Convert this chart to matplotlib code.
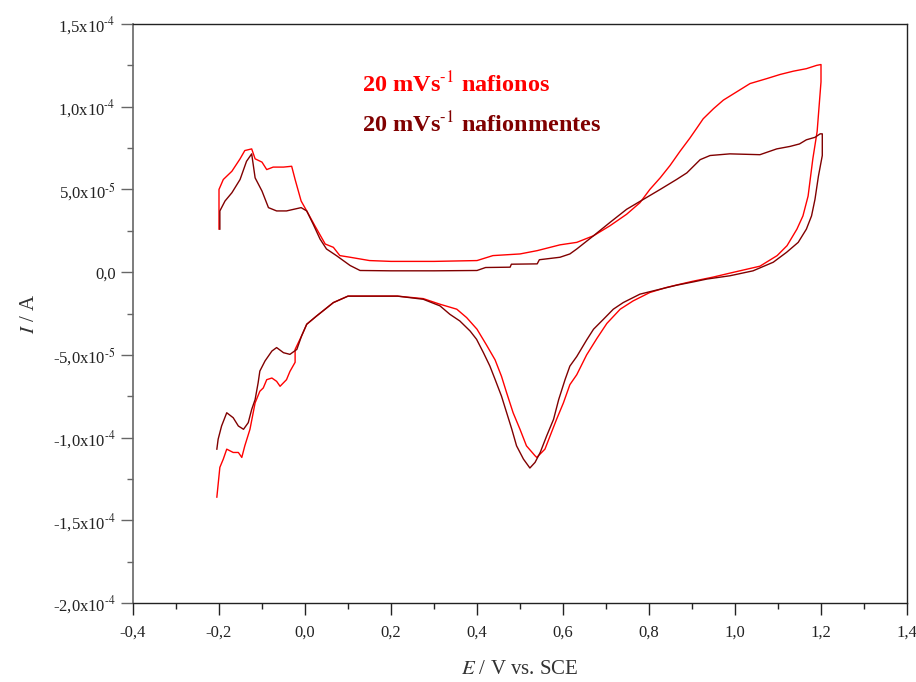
import matplotlib
matplotlib.use("Agg")
import matplotlib.pyplot as plt
from matplotlib.ticker import FixedLocator, MultipleLocator

plt.rcParams['font.family'] = ['Liberation Serif', 'DejaVu Serif']
plt.rcParams['mathtext.fontset'] = 'stix'

# ---- data (E in V vs SCE, I in units of 1e-5 A) ----
nafionos_E = [-0.2, -0.2, -0.19, -0.17, -0.151, -0.14, -0.124, -0.116, -0.1, -0.089, -0.074, -0.05,
              -0.031, -0.023, -0.009, 0.004, 0.023, 0.047, 0.066, 0.081, 0.105, 0.15, 0.2, 0.3, 0.4,
              0.437, 0.5, 0.54, 0.593, 0.632, 0.671, 0.709, 0.748, 0.779, 0.802, 0.826, 0.849, 0.872,
              0.895, 0.911, 0.926, 0.95, 0.973, 1.004, 1.035, 1.074, 1.105, 1.136, 1.166, 1.19, 1.2,
              1.2, 1.191, 1.181, 1.17, 1.158, 1.144, 1.121, 1.098, 1.058, 1.028, 0.988, 0.949, 0.902,
              0.872, 0.84, 0.802, 0.763, 0.733, 0.702, 0.679, 0.655, 0.632, 0.616, 0.601, 0.585, 0.57,
              0.558, 0.539, 0.535, 0.515, 0.5, 0.484, 0.469, 0.457, 0.442, 0.422, 0.4, 0.376, 0.353,
              0.314, 0.275, 0.215, 0.1, 0.066, 0.027, 0.004, -0.008, -0.023, -0.023, -0.035, -0.043,
              -0.058, -0.066, -0.077, -0.089, -0.097, -0.105, -0.116, -0.128, -0.14, -0.147, -0.155,
              -0.167, -0.182, -0.19, -0.198, -0.205]
nafionos_I = [2.6, 5.0, 5.6, 6.1, 6.85, 7.35, 7.45, 6.85, 6.65, 6.2, 6.35, 6.35,
              6.4, 5.6, 4.3, 3.7, 2.8, 1.7, 1.5, 1.0, 0.9, 0.7, 0.65, 0.65, 0.7,
              1.0, 1.1, 1.3, 1.65, 1.8, 2.2, 2.8, 3.5, 4.2, 5.0, 5.7, 6.45, 7.3,
              8.1, 8.7, 9.27, 9.88, 10.4, 10.9, 11.4, 11.7, 11.95, 12.15, 12.3, 12.5, 12.55,
              11.5, 8.5, 6.85, 4.6, 3.4, 2.6, 1.6, 1.0, 0.36, 0.18, -0.06, -0.3, -0.55,
              -0.73, -0.93, -1.23, -1.74, -2.24, -3.1, -4.0, -5.0, -6.2, -6.8, -7.9, -8.9, -9.9,
              -10.7, -11.2, -11.1, -10.5, -9.5, -8.5, -7.3, -6.3, -5.3, -4.4, -3.45, -2.75, -2.24,
              -1.94, -1.6, -1.45, -1.45, -1.84, -2.65, -3.15, -3.86, -4.67, -5.45, -6.0, -6.5,
              -6.9, -6.6, -6.4, -6.5, -7.0, -7.2, -7.9, -9.5, -10.5, -11.2, -10.9,
              -10.9, -10.7, -11.3, -11.8, -13.6]

nafionmentes_E = [-0.198, -0.198, -0.186, -0.17, -0.151, -0.136, -0.124, -0.116, -0.1, -0.085, -0.066,
                  -0.043, -0.009, 0.004, 0.019, 0.035, 0.05, 0.073, 0.105, 0.128, 0.2, 0.3, 0.4, 0.42,
                  0.477, 0.48, 0.54, 0.545, 0.593, 0.616, 0.632, 0.671, 0.709, 0.748, 0.787, 0.826,
                  0.864, 0.888, 0.919, 0.942, 0.988, 1.058, 1.097, 1.128, 1.15, 1.166, 1.186, 1.198,
                  1.203, 1.203, 1.194, 1.186, 1.178, 1.166, 1.147, 1.12, 1.089, 1.042, 0.988, 0.934,
                  0.903, 0.864, 0.826, 0.779, 0.74, 0.717, 0.694, 0.671, 0.655, 0.632, 0.616, 0.605,
                  0.59, 0.578, 0.562, 0.547, 0.535, 0.523, 0.508, 0.492, 0.481, 0.469, 0.457, 0.442,
                  0.43, 0.415, 0.399, 0.384, 0.36, 0.337, 0.314, 0.275, 0.215, 0.1, 0.066, 0.027,
                  0.004, -0.008, -0.019, -0.035, -0.05, -0.066, -0.077, -0.093, -0.105, -0.109,
                  -0.116, -0.124, -0.132, -0.143, -0.155, -0.167, -0.182, -0.194, -0.202, -0.205]
nafionmentes_I = [2.6, 3.7, 4.3, 4.8, 5.6, 6.7, 7.15, 5.7, 4.9, 3.9, 3.7,
                  3.7, 3.9, 3.7, 2.9, 2.0, 1.4, 1.0, 0.4, 0.1, 0.08, 0.08, 0.1, 0.28,
                  0.3, 0.48, 0.5, 0.75, 0.9, 1.1, 1.4, 2.2, 3.0, 3.8, 4.4, 5.0,
                  5.6, 6.0, 6.8, 7.05, 7.15, 7.1, 7.45, 7.6, 7.75, 8.0, 8.15, 8.36,
                  8.36, 7.05, 5.8, 4.4, 3.4, 2.6, 1.8, 1.2, 0.6, 0.08, -0.22, -0.42,
                  -0.59, -0.79, -1.03, -1.33, -1.84, -2.24, -2.85, -3.45, -4.1, -5.1, -5.68, -6.48,
                  -7.7, -8.9, -9.9, -10.9, -11.5, -11.84, -11.3, -10.5, -9.5, -8.5, -7.5, -6.48,
                  -5.68, -4.87, -4.06, -3.56, -2.95, -2.55, -2.04, -1.64, -1.45, -1.45, -1.84, -2.65,
                  -3.15, -3.86, -4.67, -4.97, -4.87, -4.56, -4.77, -5.37, -5.98, -6.69,
                  -7.7, -8.3, -9.1, -9.5, -9.3, -8.8, -8.5, -9.3, -10.1, -10.7]

x_ticks = [-0.4, -0.2, 0.0, 0.2, 0.4, 0.6, 0.8, 1.0, 1.2, 1.4]
x_tick_labels = ['-0,4', '-0,2', '0,0', '0,2', '0,4', '0,6', '0,8', '1,0', '1,2', '1,4']
y_ticks = [-2.0e-4, -1.5e-4, -1.0e-4, -5.0e-5, 0.0, 5.0e-5, 1.0e-4, 1.5e-4]
y_tick_labels = [r'-2,0x10$^{\text{-4}}$', r'-1,5x10$^{\text{-4}}$', r'-1,0x10$^{\text{-4}}$',
                 r'-5,0x10$^{\text{-5}}$', '0,0', r'5,0x10$^{\text{-5}}$', r'1,0x10$^{\text{-4}}$',
                 r'1,5x10$^{\text{-4}}$']

series_labels = [r'20 mVs$^{\text{-1}}$ nafionos', r'20 mVs$^{\text{-1}}$ nafionmentes']
series_colors = ['#ff0000', '#800000']

# ---- figure ----
fig = plt.figure(figsize=(9.16, 6.82), dpi=100)
ax = fig.add_axes([133/916, 1 - 603/682, (907 - 133)/916, (603 - 24)/682])

scale = 1e-5
ax.plot(nafionos_E, [v * scale for v in nafionos_I], color=series_colors[0], lw=1.0)
ax.plot(nafionmentes_E, [v * scale for v in nafionmentes_I], color=series_colors[1], lw=1.0)

ax.set_xlim(-0.4, 1.4)
ax.set_ylim(-2.0e-4, 1.5e-4)
ax.xaxis.set_major_locator(FixedLocator(x_ticks))
ax.set_xticklabels(x_tick_labels)
ax.xaxis.set_minor_locator(MultipleLocator(0.1))
ax.yaxis.set_major_locator(FixedLocator(y_ticks))
ax.set_yticklabels(y_tick_labels)
ax.yaxis.set_minor_locator(MultipleLocator(2.5e-5))

ax.tick_params(which='major', direction='out', length=8.5, width=1.0, labelsize=12,
               colors='#222222', pad=7)
ax.tick_params(which='minor', direction='out', length=4.3, width=1.0, colors='#222222')
ax.tick_params(axis='y', which='both', color='#666666')
ax.tick_params(axis='y', which='major', pad=4)
for s in ['top', 'right', 'bottom']:
    ax.spines[s].set_color('#222222')
    ax.spines[s].set_linewidth(1.0)
ax.spines['left'].set_color('#666666')
ax.spines['left'].set_linewidth(1.2)

ax.set_xlabel('$E$ / V vs. SCE', fontsize=15, color='#333333', labelpad=14)
ax.set_ylabel('$I$ / A', fontsize=15, color='#333333', labelpad=10)

fig.text(362/916, 1 - 85/682, series_labels[0], color=series_colors[0], fontsize=17.5,
         fontweight='bold', va='center', ha='left')
fig.text(362/916, 1 - 125/682, series_labels[1], color=series_colors[1], fontsize=17.5,
         fontweight='bold', va='center', ha='left')

fig.savefig('out.png', dpi=100)
